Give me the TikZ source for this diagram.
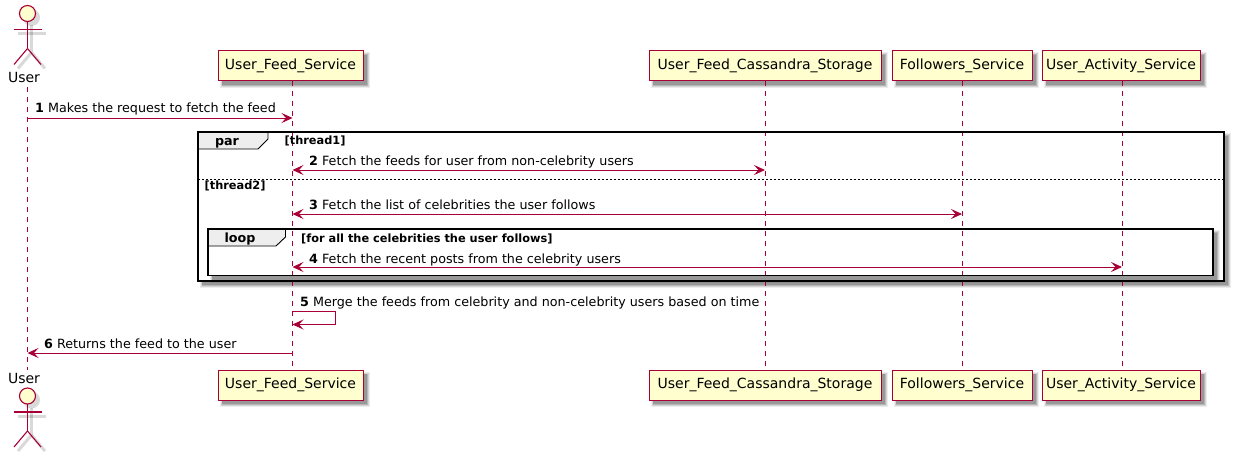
\documentclass[tikz,border=0pt]{standalone}
\usepackage{fontspec}
\setmainfont{DejaVu Sans}
\usetikzlibrary{arrows.meta}
\definecolor{pred}{HTML}{A80036}
\definecolor{pfill}{HTML}{FEFECE}
\definecolor{tabfill}{HTML}{EEEEEE}
\newcommand{\softshadow}[4]{%
  \fill[black,opacity=0.07] (#1+1.5,#2+1.5) rectangle (#3+7,#4+7);
  \fill[black,opacity=0.10] (#1+2.5,#2+2.5) rectangle (#3+6,#4+6);
  \fill[black,opacity=0.14] (#1+3.5,#2+3.5) rectangle (#3+5,#4+5);
  \fill[black,opacity=0.16] (#1+4,#2+4) rectangle (#3+4,#4+4);
}
\newcommand{\actorfig}[2]{%
  \begin{scope}[shift={(#1,#2)}]
    \begin{scope}[shift={(4,4)},black,opacity=0.15,line width=3pt]
      \fill (0,0) circle (8.5);
      \draw (0,8) -- (0,35);
      \draw (-14,16) -- (14,16);
      \draw (0,35) -- (-13.5,51);
      \draw (0,35) -- (13.5,51);
    \end{scope}
    \draw[actorline,fill=pfill] (0,0) circle (8);
    \draw[actorline] (0,8) -- (0,35);
    \draw[actorline] (-14,16) -- (14,16);
    \draw[actorline] (0,35) -- (-13.5,51);
    \draw[actorline] (0,35) -- (13.5,51);
  \end{scope}%
}
\tikzset{
  x=1pt,y=-1pt,
  actorline/.style={draw=pred,line width=1.1pt},
  partbox/.style={draw=pred,fill=pfill,line width=1pt,minimum height=30pt,inner sep=0pt,font=\fontsize{14}{16}\selectfont},
  lifeline/.style={draw=pred,line width=0.9pt,dash pattern=on 5pt off 5pt},
  msg/.style={draw=pred,line width=0.9pt,-{Stealth[length=11pt,width=10pt,inset=4.5pt]}},
  bimsg/.style={draw=pred,line width=0.9pt,{Stealth[length=11pt,width=10pt,inset=4.5pt]}-{Stealth[length=11pt,width=10pt,inset=4.5pt]}},
  msgtext/.style={anchor=base west,inner sep=0pt,font=\fontsize{12.72}{15}\selectfont},
  frameline/.style={draw=black,line width=1.8pt},
  tabshape/.style={draw=black,fill=tabfill,line width=0.9pt},
  guardtext/.style={anchor=base west,inner sep=0pt,font=\fontsize{11.35}{13}\selectfont\bfseries},
  tabtext/.style={anchor=base,inner sep=0pt,font=\fontsize{12.7}{15}\selectfont\bfseries},
  actorlabel/.style={anchor=base,inner sep=0pt,font=\fontsize{14}{16}\selectfont},
}
\begin{document}
\begin{tikzpicture}
\useasboundingbox (0,0) rectangle (1234,457);
\fill[white] (0,0) rectangle (1234,457);
% frame shadows and interiors
\softshadow{198}{132}{1224}{281}
\fill[white] (198,132) rectangle (1224,281);
\softshadow{208}{229}{1213}{275.5}
\fill[white] (208,229) rectangle (1213,275.5);
% participant shadows
\softshadow{218}{51}{363}{81}
\softshadow{649}{51}{881}{81}
\softshadow{892}{51}{1032}{81}
\softshadow{1042}{51}{1200}{81}
\softshadow{218}{370}{363}{400}
\softshadow{649}{370}{881}{400}
\softshadow{892}{370}{1032}{400}
\softshadow{1042}{370}{1200}{400}
% participants
\node[partbox,minimum width=145pt] (ufsT) at (290.5,66) {User\_Feed\_Service};
\node[partbox,minimum width=232pt] (casT) at (765,66) {User\_Feed\_Cassandra\_Storage};
\node[partbox,minimum width=140pt] (folT) at (962,66) {Followers\_Service};
\node[partbox,minimum width=158pt] (actT) at (1121,66) {User\_Activity\_Service};
\node[partbox,minimum width=145pt] (ufsB) at (290.5,385) {User\_Feed\_Service};
\node[partbox,minimum width=232pt] (casB) at (765,385) {User\_Feed\_Cassandra\_Storage};
\node[partbox,minimum width=140pt] (folB) at (962,385) {Followers\_Service};
\node[partbox,minimum width=158pt] (actB) at (1121,385) {User\_Activity\_Service};
% actors
\actorfig{27.5}{13.5}
\actorfig{27.5}{396}
\node[actorlabel] (userT) at (24,83) {User};
\node[actorlabel] (userB) at (24,383) {User};
% lifelines
\coordinate (uT) at (27.5,87);
\coordinate (uB) at (27.5,370);
\coordinate (fT) at (292.5,81);
\coordinate (fB) at (292.5,370);
\coordinate (cT) at (765,81);
\coordinate (cB) at (765,370);
\coordinate (oT) at (962,81);
\coordinate (oB) at (962,370);
\coordinate (aT) at (1122,81);
\coordinate (aB) at (1122,370);
\draw[lifeline] (uT) -- (uB);
\draw[lifeline] (fT) -- (fB);
\draw[lifeline] (cT) -- (cB);
\draw[lifeline] (oT) -- (oB);
\draw[lifeline] (aT) -- (aB);
% frames
\coordinate (parTL) at (198,132);
\coordinate (parBR) at (1224,281);
\coordinate (loopTL) at (208,229);
\coordinate (loopBR) at (1213,275.5);
\draw[tabshape] (198,132) -- (268,132) -- (268,139) -- (258,149) -- (198,149) -- cycle;
\draw[tabshape] (208,229) -- (285.5,229) -- (285.5,237) -- (276,246) -- (208,246) -- cycle;
\draw[frameline] (parTL) rectangle (parBR);
\draw[frameline] (loopTL) rectangle (loopBR);
\draw[draw=black,line width=0.8pt,dash pattern=on 2pt off 2pt] (198,179) -- (1224,179);
\node[tabtext] (partab) at (227,145.5) {par};
\node[tabtext] (looptab) at (240,242.5) {loop};
\node[guardtext] (g1) at (284.5,145) {[thread1]};
\node[guardtext] (g2) at (204.5,190) {[thread2]};
\node[guardtext] (g3) at (301,242) {[for all the celebrities the user follows]};
% messages
\coordinate (m1a) at (27.5,118);
\coordinate (m1b) at (292.5,118);
\coordinate (m2a) at (292.5,170);
\coordinate (m2b) at (765,170);
\coordinate (m3a) at (292.5,214);
\coordinate (m3b) at (962,214);
\coordinate (m4a) at (292.5,267);
\coordinate (m4b) at (1122,267);
\coordinate (m5a) at (292.5,311);
\coordinate (m5c) at (335.5,311);
\coordinate (m5d) at (335.5,324.5);
\coordinate (m5b) at (292.5,324.5);
\coordinate (m6a) at (292.5,353);
\coordinate (m6b) at (27.5,353);
\draw[msg] (m1a) -- (m1b);
\draw[bimsg] (m2a) -- (m2b);
\draw[bimsg] (m3a) -- (m3b);
\draw[bimsg] (m4a) -- (m4b);
\draw[msg] (m5a) -- (m5c) -- (m5d) -- (m5b);
\draw[msg] (m6a) -- (m6b);
\node[msgtext] (t1) at (35,112.5) {\textbf{1} Makes the request to fetch the feed};
\node[msgtext] (t2) at (309,166) {\textbf{2} Fetch the feeds for user from non-celebrity users};
\node[msgtext] (t3) at (309,210) {\textbf{3} Fetch the list of celebrities the user follows};
\node[msgtext] (t4) at (309,263) {\textbf{4} Fetch the recent posts from the celebrity users};
\node[msgtext] (t5) at (300,306) {\textbf{5} Merge the feeds from celebrity and non-celebrity users based on time};
\node[msgtext] (t6) at (44,348) {\textbf{6} Returns the feed to the user};
\end{tikzpicture}
\end{document}
